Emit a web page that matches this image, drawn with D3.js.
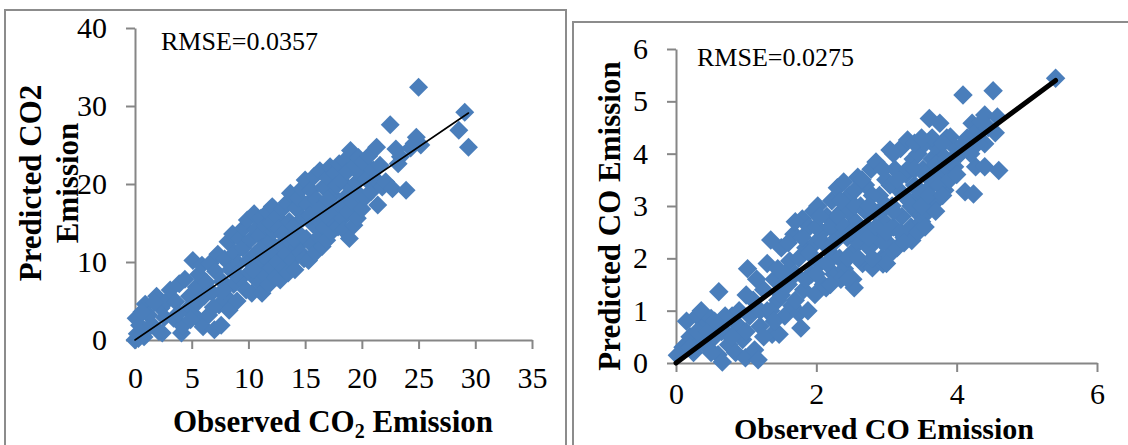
<!DOCTYPE html>
<html>
<head>
<meta charset="utf-8">
<script src="https://cdn.jsdelivr.net/npm/d3@7"></script>
<style>
  html, body { margin: 0; padding: 0; background: #fff; }
  svg { display: block; }
  text { font-family: "Liberation Serif", "Times New Roman", serif; fill: #000; }
</style>
</head>
<body>
<svg id="chart" width="1128" height="445"></svg>
<script>
// ---------- DATA ----------
const co2XTicks = [0, 5, 10, 15, 20, 25, 30, 35];
const co2YTicks = [0, 10, 20, 30, 40];
const coXTicks = [0, 2, 4, 6];
const coYTicks = [0, 1, 2, 3, 4, 5, 6];

const co2Rmse = "RMSE=0.0357";
const coRmse = "RMSE=0.0275";

// Observed vs predicted CO2 emission
const co2Points = [
  [0,0],[0.2,0.8],[0.1,2.8],[0.4,1.9],[0.8,0.4],[0.9,4.6],[1.2,3.2],[1.5,2.0],[1.9,5.6],[2.1,1.1],[2.3,4.1],[2.6,2.9],[0.6,3.6],[1.1,1.4],[2.8,5.0],[1.7,4.8],[0.3,0.2],[2.4,0.9],
  [3.1,6.4],[3.4,2.8],[3.6,4.9],[3.9,7.2],[4.1,0.9],[4.2,1.8],[4.4,7.8],[4.6,3.9],[4.8,5.6],[5.1,10.2],[5.2,3.2],[5.4,6.8],[5.6,8.4],[5.8,2.3],[6.0,1.7],[5.9,9.6],[3.8,3.4],[4.9,2.6],[5.5,4.8],[6.1,5.6],
  [6.3,7.4],[6.5,3.2],[6.6,9.8],[6.8,6.1],[7.0,1.3],[7.1,8.8],[7.3,11.0],[7.4,4.5],[7.6,1.9],[7.7,7.5],[7.9,10.4],[8.0,5.6],[8.2,12.6],[8.3,3.8],[8.4,9.0],[8.6,13.6],[8.7,7.1],[8.8,11.2],[9.0,5.0],[9.1,9.8],[9.2,13.0],[9.3,7.9],[9.5,11.8],[9.6,14.4],[6.9,4.2],[7.8,6.4],[8.9,8.4],
  [9.8,6.4],[9.9,15.4],[10.0,10.2],[10.1,8.7],[10.2,12.9],[10.3,6.0],[10.5,16.2],[10.6,11.0],[10.7,14.2],[10.8,7.6],[10.9,9.6],[11.0,13.4],[11.1,15.6],[11.2,6.0],[11.3,11.9],[11.4,8.4],[11.5,14.6],[11.6,10.4],[11.7,16.4],[11.8,7.1],[11.9,12.6],[12.0,9.3],[12.1,17.1],[12.2,13.9],[10.4,9.0],[11.0,11.6],[12.0,15.0],
  [12.3,11.2],[12.4,8.0],[12.5,15.8],[12.6,10.0],[12.7,14.3],[12.8,7.7],[12.9,12.2],[13.0,16.8],[13.1,9.2],[13.2,13.5],[13.3,11.0],[13.4,17.6],[13.5,8.6],[13.6,15.2],[13.7,18.8],[13.8,12.4],[13.9,10.2],[14.0,14.6],[14.1,9.0],[14.2,16.9],[14.3,12.0],[14.4,18.2],[14.5,13.6],[14.6,11.2],[14.7,19.4],[14.8,15.6],[14.9,10.4],[15.0,20.5],[13.0,13.6],[14.0,13.0],
  [15.1,13.0],[15.2,17.4],[15.3,10.2],[15.4,16.0],[15.5,19.2],[15.6,12.2],[15.7,14.8],[15.8,21.0],[15.9,11.2],[16.0,18.0],[16.1,15.4],[16.2,13.2],[16.3,21.7],[16.4,16.8],[16.5,12.0],[16.6,19.6],[16.7,14.4],[16.8,17.5],[16.9,12.8],[17.0,20.8],[17.1,15.6],[17.2,22.2],[17.3,13.8],[17.4,18.6],[17.5,16.4],[17.6,21.4],[17.7,14.8],[17.8,19.8],[17.9,14.5],[18.0,22.6],[16.0,16.4],[17.0,18.0],
  [18.1,17.2],[18.2,20.4],[18.3,15.6],[18.4,14.1],[18.5,23.0],[18.6,18.4],[18.7,21.6],[18.8,16.4],[18.9,13.0],[19.0,24.3],[19.1,19.4],[19.2,17.6],[19.3,14.7],[19.4,22.4],[19.5,20.2],[19.6,15.6],[19.7,23.4],[19.8,18.6],[19.9,21.2],[20.0,16.8],[20.1,22.8],[20.3,18.3],[20.4,20.6],[20.6,23.6],[20.8,19.0],[21.0,21.8],[21.3,24.7],[21.4,17.3],[21.2,20.6],
  [21.6,22.4],[21.8,19.6],[22.1,20.3],[22.5,27.6],[22.7,19.4],[23.0,24.5],[23.2,22.6],[23.4,23.5],[23.9,19.2],[24.3,24.6],[24.6,25.2],[24.8,26.0],[25.0,32.4],[25.2,25.0],[28.55,26.9],[29.07,29.2],[29.4,24.7]
];
const co2Line = [[0, 0], [29.4, 29.1]];

// Observed vs predicted CO emission
const coPoints = [
  [0.02,0.15],[0.1,0.3],[0.15,0.8],[0.2,0.5],[0.25,0.2],[0.3,0.9],[0.35,0.4],[0.36,1.0],[0.4,0.7],[0.45,0.3],[0.5,0.85],[0.55,0.5],[0.6,0.16],[0.61,1.36],[0.66,0.02],[0.7,0.6],[0.75,0.35],[0.8,0.9],[0.85,0.2],[0.9,0.7],[0.95,0.45],[0.99,0.1],[0.3,0.6],[0.5,0.2],
  [1.02,1.8],[1.05,0.9],[1.1,1.2],[1.12,0.25],[1.17,0.06],[1.2,0.7],[1.25,1.4],[1.3,1.0],[1.35,2.35],[1.37,0.55],[1.4,1.6],[1.45,1.2],[1.47,0.55],[1.5,2.2],[1.55,0.9],[1.6,1.5],[1.62,1.95],[1.65,1.1],[1.68,2.46],[1.7,1.7],[1.75,0.95],[1.78,0.67],[1.8,2.75],[1.82,1.4],[1.85,2.2],[1.88,1.0],[1.9,2.6],[1.93,1.7],[1.96,2.9],[1.98,1.31],[1.99,2.3],[1.15,1.6],[1.3,1.9],
  [2.02,3.0],[2.05,1.9],[2.08,2.5],[2.1,1.5],[2.14,1.44],[2.15,2.8],[2.2,2.1],[2.22,3.1],[2.25,1.7],[2.28,2.6],[2.3,3.35],[2.33,2.0],[2.36,2.9],[2.39,3.46],[2.4,1.8],[2.44,2.4],[2.47,3.2],[2.5,2.1],[2.52,1.6],[2.54,1.44],[2.56,2.7],[2.59,3.55],[2.6,2.3],[2.63,3.0],[2.66,1.9],[2.7,3.4],[2.72,2.6],[2.75,2.2],[2.78,3.7],[2.8,1.82],[2.82,2.9],[2.85,3.84],[2.87,2.4],[2.9,3.2],[2.93,2.0],[2.95,1.89],[2.97,2.7],[2.99,3.5],[2.3,2.4],[2.6,2.6],[2.45,2.9],
  [3.02,2.3],[3.05,4.07],[3.05,2.08],[3.08,3.0],[3.1,2.6],[3.12,3.7],[3.15,2.2],[3.18,3.3],[3.2,4.1],[3.22,2.8],[3.25,2.4],[3.28,3.6],[3.3,4.26],[3.32,3.1],[3.35,2.6],[3.36,2.34],[3.38,3.9],[3.4,3.4],[3.42,2.9],[3.45,4.0],[3.48,3.2],[3.5,2.7],[3.52,3.7],[3.55,4.2],[3.56,2.85],[3.58,3.3],[3.61,4.67],[3.63,3.0],[3.65,3.9],[3.68,3.5],[3.71,3.10],[3.73,4.1],[3.76,4.58],[3.78,3.6],[3.8,3.9],[3.83,3.3],[3.86,4.3],[3.88,3.7],[3.91,4.32],[3.94,3.9],[3.97,3.75],[3.99,4.1],
  [4.05,4.0],[4.09,5.12],[4.12,3.27],[4.15,4.3],[4.22,4.58],[4.24,3.23],[4.27,3.75],[4.3,4.45],[4.35,4.6],[4.40,4.74],[4.40,4.19],[4.40,3.75],[4.45,4.5],[4.52,5.2],[4.55,4.4],[4.58,4.70],[4.60,3.68],[5.41,5.44],
  [1.5,1.3],[1.6,2.3],[1.7,1.2],[1.75,2.0],[1.85,1.6],[1.9,2.1],[2.0,2.6],[2.0,1.7],[2.1,2.3],[2.15,1.9],[2.2,2.6],[2.25,2.3],[2.3,2.8],[2.35,1.6],[2.4,2.6],[2.45,2.0],[2.5,2.5],[2.55,3.0],[2.6,2.0],[2.65,2.5],[2.7,2.9],[2.75,2.4],[2.8,3.2],[2.85,2.6],[2.9,2.9],[2.95,2.3],[3.0,3.0],[3.0,2.5],[3.05,3.4],[3.1,2.9],[3.15,3.5],[3.2,2.5],[3.25,3.2],[3.3,3.7],[3.35,3.0],[3.4,3.7],[3.45,3.3],[3.5,3.0],[3.55,3.6],[3.6,3.2],[3.65,4.3],[3.7,3.8],[3.75,3.4],[3.8,4.2],[3.85,3.9],[3.9,3.5],[4.0,3.6],[4.1,4.2],[4.2,4.0],[4.3,4.2],
  [1.2,1.0],[1.25,0.5],[1.35,1.0],[1.4,0.8],[1.45,1.8],[1.55,1.7],[0.65,0.6],[0.7,0.9],[0.8,0.5],[0.9,1.0],[1.0,0.6],[1.0,1.3],[0.45,0.6],[0.55,0.8],[0.2,0.3],
  [2.35,3.1],[2.55,3.3],[2.65,3.5],[2.95,3.7],[3.1,4.0],[3.4,4.2],[3.5,4.3],[2.75,3.0],[2.05,2.8],[1.8,2.4],[1.7,2.7],[2.2,1.5],[2.45,1.6],[2.8,2.0],[3.0,1.9],[3.25,2.3],[3.45,2.5],[3.55,2.6],[3.7,2.9],[3.8,3.2]
];
const coLine = [[0, 0], [5.41, 5.4]];

// ---------- DRAWING ----------
const svg = d3.select("#chart");
const BLUE = "#4a7ebb";
const AXIS = "#868686";
const BORDER = "#8c8c8c";

// panel borders
svg.append("rect").attr("x", 5).attr("y", 10).attr("width", 561).attr("height", 460)
  .attr("fill", "none").attr("stroke", BORDER).attr("stroke-width", 2);
svg.append("rect").attr("x", 573).attr("y", 22).attr("width", 600).attr("height", 460)
  .attr("fill", "none").attr("stroke", BORDER).attr("stroke-width", 2);

function panel(cfg) {
  const g = svg.append("g");
  const x = d3.scaleLinear().domain(cfg.xDomain).range(cfg.xRange);
  const y = d3.scaleLinear().domain(cfg.yDomain).range(cfg.yRange);

  const xAxis = d3.axisBottom(x).tickValues(cfg.xTicks).tickSize(9).tickSizeOuter(0).tickPadding(cfg.xPad).tickFormat(d3.format("d"));
  const yAxis = d3.axisLeft(y).tickValues(cfg.yTicks).tickSize(9).tickSizeOuter(0).tickPadding(19).tickFormat(d3.format("d"));

  const gx = g.append("g").attr("transform", `translate(0,${cfg.yRange[0]})`).call(xAxis);
  const gy = g.append("g").attr("transform", `translate(${cfg.xRange[0]},0)`).call(yAxis);
  [gx, gy].forEach(a => {
    a.selectAll("path, line").attr("stroke", AXIS).attr("stroke-width", 2);
    a.selectAll("text").attr("font-size", 30).attr("font-family", '"Liberation Serif", "Times New Roman", serif').attr("fill", "#000");
  });

  const sym = d3.symbol().type(d3.symbolSquare).size(cfg.markerSize);
  g.append("g").selectAll("path").data(cfg.points).join("path")
    .attr("d", sym)
    .attr("transform", d => `translate(${x(d[0])},${y(d[1])}) rotate(45)`)
    .attr("fill", BLUE);

  g.append("path").datum(cfg.line)
    .attr("d", d3.line().x(d => x(d[0])).y(d => y(d[1])))
    .attr("stroke", "#000").attr("stroke-width", cfg.lineWidth)
    .attr("stroke-linecap", "round").attr("fill", "none");

  g.append("text").attr("x", cfg.rmsePos[0]).attr("y", cfg.rmsePos[1])
    .attr("font-size", 26).text(cfg.rmse);
  return g;
}

panel({
  xDomain: [0, 35], xRange: [135, 532],
  yDomain: [0, 40], yRange: [340, 28],
  xTicks: co2XTicks, yTicks: co2YTicks, xPad: 18,
  points: co2Points, line: co2Line, lineWidth: 1.6, markerSize: 180,
  rmse: co2Rmse, rmsePos: [161, 50]
});

panel({
  xDomain: [0, 6], xRange: [676, 1097],
  yDomain: [0, 6], yRange: [363, 49],
  xTicks: coXTicks, yTicks: coYTicks, xPad: 11,
  points: coPoints, line: coLine, lineWidth: 5, markerSize: 190,
  rmse: coRmse, rmsePos: [697, 66]
});

// axis titles
const bold = t => t.attr("font-weight", "bold").attr("font-size", 31).attr("text-anchor", "middle");

bold(svg.append("text").attr("transform", "translate(41,183) rotate(-90)")).text("Predicted CO2");
bold(svg.append("text").attr("transform", "translate(78,183) rotate(-90)")).text("Emission");

const xt = bold(svg.append("text").attr("x", 333).attr("y", 432));
xt.append("tspan").text("Observed CO");
xt.append("tspan").attr("font-size", 20).attr("dy", 6).text("2");
xt.append("tspan").attr("dy", -6).text(" Emission");

bold(svg.append("text").attr("transform", "translate(620,216) rotate(-90)")).text("Predicted CO Emission");
bold(svg.append("text").attr("x", 884).attr("y", 438.5)).attr("font-size", 30).text("Observed CO Emission");
</script>
</body>
</html>
